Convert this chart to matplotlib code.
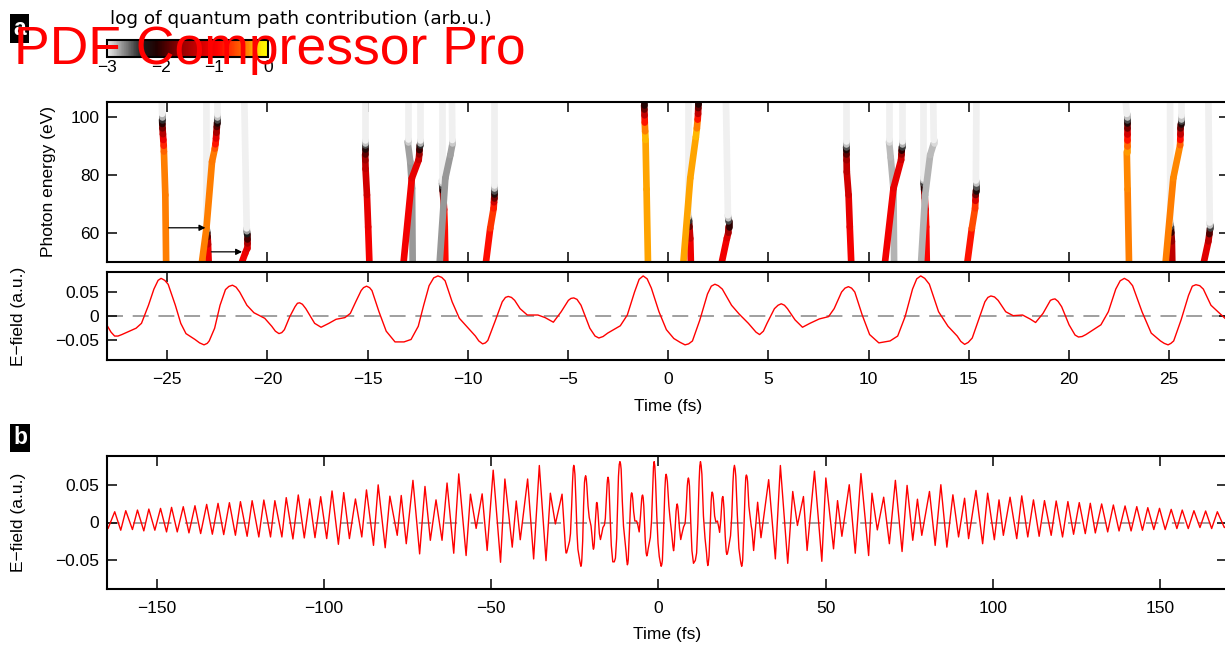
import matplotlib
matplotlib.use('Agg')
import matplotlib.pyplot as plt
import numpy as np
from matplotlib.collections import LineCollection
from matplotlib.colors import LinearSegmentedColormap, Normalize
import matplotlib.cm as cm

plt.rcParams['font.family'] = ['Liberation Sans', 'DejaVu Sans']
plt.rcParams['axes.unicode_minus'] = True
plt.rcParams['lines.scale_dashes'] = False

# ---------------- data ----------------
# quantum-path trajectories: (time fs, photon energy eV, log contribution)
traj_A1 = [(-25.05, 50, -0.4), (-25.09, 73, -0.4), (-25.16, 88, -0.42), (-25.17, 90, -0.6), (-25.19, 92, -0.95),
           (-25.21, 94, -1.25), (-25.23, 96, -1.6), (-25.24, 97.5, -1.9), (-25.25, 99, -2.2), (-25.25, 100, -2.6),
           (-25.25, 101, -3), (-25.27, 106, -3)]
traj_A2 = [(-23.26, 50, -0.4), (-23.04, 61.5, -0.4), (-22.76, 84.5, -0.4), (-22.62, 89, -0.45), (-22.59, 90.5, -0.7),
           (-22.56, 92.5, -1.0), (-22.54, 94.5, -1.3), (-22.52, 96.5, -1.7), (-22.51, 98, -2.0), (-22.51, 99, -2.25),
           (-22.51, 100, -2.7), (-22.51, 101, -3), (-22.51, 106, -3)]
traj_A3 = [(-22.93, 50, -1.0), (-22.96, 56, -1.1), (-22.98, 58.5, -1.6), (-23.0, 60, -2.15), (-23.02, 61, -2.6),
           (-23.03, 62, -3), (-23.04, 106, -3)]
traj_A4 = [(-21.26, 50, -1.0), (-21.1, 53, -1.05), (-21.01, 54.6, -1.1), (-21.01, 56.5, -1.3), (-21.01, 58, -1.7),
           (-21.01, 59.5, -2.15), (-21.02, 60.5, -2.5), (-21.03, 61.5, -3), (-21.15, 106, -3)]
traj_B1 = [(-14.91, 50, -0.95), (-14.97, 62, -1.05), (-15.03, 73, -1.2), (-15.1, 82, -1.3), (-15.11, 85, -1.4),
           (-15.12, 87, -1.7), (-15.12, 89, -2.0), (-15.12, 90.2, -2.3), (-15.12, 91, -2.7), (-15.12, 92, -3),
           (-15.12, 106, -3)]
traj_B2 = [(-13.2, 50, -1.0), (-12.79, 78.8, -1.05), (-12.45, 85.1, -1.2), (-12.42, 87, -1.4), (-12.41, 88.5, -1.8),
           (-12.4, 90.2, -2.2), (-12.4, 91, -2.6), (-12.4, 92, -3), (-12.4, 106, -3)]
traj_B3 = [(-12.75, 50, -2.73), (-12.78, 75.3, -2.73), (-12.87, 84.5, -2.73), (-13.0, 91.4, -2.76), (-13.0, 92.5, -3),
           (-13.0, 106, -3)]
traj_B4 = [(-11.4, 50, -2.73), (-11.12, 78.8, -2.73), (-10.87, 86.8, -2.73), (-10.76, 90.8, -2.76), (-10.77, 92, -3),
           (-10.79, 106, -3)]
traj_B5 = [(-11.12, 50, -1.0), (-11.15, 62, -0.8), (-11.18, 68, -0.9), (-11.22, 72, -1.3), (-11.25, 74.5, -1.9),
           (-11.27, 76, -2.25), (-11.28, 77, -2.7), (-11.29, 78, -3), (-11.29, 106, -3)]
traj_B6 = [(-9.09, 50, -1.0), (-8.88, 61.5, -0.75), (-8.71, 68.4, -0.65), (-8.69, 70.5, -1.0), (-8.68, 72, -1.5),
           (-8.68, 73.3, -2.0), (-8.68, 74.5, -2.3), (-8.68, 75.5, -2.7), (-8.68, 76.5, -3), (-8.68, 106, -3)]
traj_C1 = [(-1.01, 50, -0.3), (-1.08, 75, -0.3), (-1.13, 92, -0.3), (-1.15, 95, -0.2), (-1.17, 98, -0.6),
           (-1.18, 100.5, -1.1), (-1.19, 102.5, -1.6), (-1.2, 104, -2.0), (-1.2, 106, -2.2)]
traj_C2 = [(0.76, 50, -0.3), (1.1, 78.8, -0.3), (1.38, 93, -0.3), (1.43, 96, -0.2), (1.47, 99, -0.6),
           (1.49, 101, -1.1), (1.5, 103, -1.6), (1.51, 104.5, -2.0), (1.51, 106, -2.2)]
traj_C3 = [(1.13, 50, -1.0), (1.1, 58, -1.1), (1.06, 62, -1.5), (1.04, 64, -2.15), (1.02, 65.5, -2.7),
           (1.01, 66.5, -3), (1.01, 106, -3)]
traj_C4 = [(2.68, 50, -1.0), (2.93, 58.1, -1.05), (3.0, 60, -1.3), (3.01, 62, -1.8), (3.01, 63.9, -2.25),
           (3.0, 65, -2.7), (2.98, 66, -3), (2.88, 106, -3)]
traj_D1 = [(9.13, 50, -0.95), (9.06, 62, -1.05), (9.0, 73, -1.2), (8.91, 81, -1.3), (8.9, 85, -1.4),
           (8.89, 87, -1.7), (8.89, 88.5, -2.0), (8.88, 89.6, -2.3), (8.88, 90.5, -2.7), (8.88, 91.5, -3),
           (8.88, 106, -3)]
traj_D2 = [(10.82, 50, -1.0), (11.24, 75.3, -1.05), (11.62, 85.1, -1.2), (11.64, 87, -1.4), (11.65, 88.3, -1.8),
           (11.66, 89.6, -2.25), (11.66, 90.5, -2.6), (11.66, 91.5, -3), (11.66, 106, -3)]
traj_D3 = [(11.27, 50, -2.81), (11.24, 75, -2.81), (11.1, 86, -2.81), (11.02, 91.4, -2.84), (11.02, 92.5, -3),
           (11.02, 106, -3)]
traj_D4 = [(12.62, 50, -2.81), (12.82, 73, -2.81), (13.07, 86.8, -2.81), (13.25, 90.8, -2.84), (13.25, 92, -3),
           (13.22, 106, -3)]
traj_D5 = [(12.9, 50, -1.0), (12.87, 62, -0.85), (12.84, 68, -0.9), (12.8, 72, -1.3), (12.77, 75, -1.9),
           (12.75, 76.9, -2.25), (12.74, 78, -2.7), (12.73, 79, -3), (12.73, 106, -3)]
traj_D6 = [(14.93, 50, -1.0), (15.15, 61.5, -0.7), (15.31, 68.4, -0.5), (15.33, 71, -0.9), (15.34, 73, -1.5),
           (15.35, 74.5, -2.0), (15.35, 75.8, -2.3), (15.35, 77, -2.7), (15.35, 78, -3), (15.38, 106, -3)]
traj_E1 = [(22.99, 50, -0.4), (22.92, 75, -0.4), (22.88, 87.9, -0.35), (22.88, 90, -0.3), (22.88, 92, -0.7),
           (22.88, 94, -1.0), (22.88, 96, -1.5), (22.88, 97.8, -2.0), (22.88, 98.9, -2.25), (22.88, 100, -2.7),
           (22.88, 101, -3), (22.82, 106, -3)]
traj_E2 = [(24.82, 50, -0.4), (25.2, 78.8, -0.4), (25.54, 90.2, -0.35), (25.55, 92, -0.7), (25.56, 94, -1.1),
           (25.56, 96, -1.6), (25.57, 97.4, -2.0), (25.57, 98.4, -2.25), (25.57, 99.4, -2.7), (25.57, 100.5, -3),
           (25.57, 106, -3)]
traj_E3 = [(25.15, 50, -1.3), (25.13, 57, -1.4), (25.1, 60, -1.8), (25.08, 62, -2.2), (25.06, 63, -2.7),
           (25.05, 64, -3), (25.04, 106, -3)]
traj_E4 = [(26.73, 50, -1.1), (26.95, 57, -1.2), (27.0, 59.5, -1.6), (27.03, 61.5, -2.2), (27.03, 62.5, -2.7),
           (27.02, 63.5, -3), (26.95, 106, -3)]

# long trajectories first, short ones on top
trajectories = [traj_A3, traj_B3, traj_B5, traj_C3, traj_D3, traj_D5, traj_E3,
                traj_A1, traj_A2, traj_A4, traj_B1, traj_B2, traj_B4, traj_B6,
                traj_C1, traj_C2, traj_C4, traj_D1, traj_D2, traj_D4, traj_D6,
                traj_E1, traj_E2, traj_E4]

# arrows in panel a (start time, end time, energy)
arrows = [(-24.92, -23.09, 61.7), (-22.79, -21.26, 53.4)]

# E-field, panel a (time fs, field a.u.)
efield_a = [(-28.0, -0.019), (-27.8, -0.033), (-27.62, -0.041), (-27.45, -0.041), (-27.26, -0.038), (-26.55, -0.025),
            (-26.28, -0.015), (-25.93, 0.022), (-25.66, 0.055), (-25.45, 0.073), (-25.3, 0.077), (-25.12, 0.073),
            (-24.95, 0.065), (-24.59, 0.022), (-24.32, -0.015), (-24.06, -0.036), (-23.61, -0.048), (-23.38, -0.055),
            (-23.16, -0.059), (-23.0, -0.056), (-22.9, -0.051), (-22.63, -0.025), (-22.36, 0.022), (-22.09, 0.054),
            (-21.92, 0.0605), (-21.74, 0.063), (-21.56, 0.059), (-21.38, 0.049), (-21.02, 0.022), (-20.67, 0.0067),
            (-20.13, -0.0047), (-19.78, -0.021), (-19.6, -0.031), (-19.42, -0.036), (-19.28, -0.034), (-19.15, -0.028),
            (-18.88, -0.0013), (-18.62, 0.019), (-18.5, 0.026), (-18.39, 0.027), (-18.25, 0.024), (-18.08, 0.015),
            (-17.64, -0.015), (-17.32, -0.023), (-16.93, -0.015), (-16.57, -0.0067), (-16.13, -0.0033),
            (-15.86, 0.0053), (-15.59, 0.029), (-15.32, 0.052), (-15.2, 0.058), (-15.05, 0.061), (-14.9, 0.058),
            (-14.78, 0.052), (-14.43, 0.0087), (-14.07, -0.031), (-13.63, -0.053), (-13.18, -0.053), (-12.83, -0.048),
            (-12.47, -0.021), (-12.2, 0.022), (-11.93, 0.062), (-11.7, 0.078), (-11.49, 0.082), (-11.3, 0.079),
            (-11.13, 0.072), (-10.78, 0.029), (-10.42, -0.0047), (-10.06, -0.021), (-9.62, -0.041), (-9.45, -0.051),
            (-9.26, -0.057), (-9.12, -0.055), (-9.0, -0.05), (-8.64, -0.011), (-8.28, 0.029), (-8.12, 0.038),
            (-7.98, 0.04), (-7.82, 0.038), (-7.66, 0.032), (-7.39, 0.015), (-7.03, 0.002), (-6.5, 0.002),
            (-6.14, -0.0033), (-5.73, -0.0127), (-5.34, 0.0087), (-4.98, 0.032), (-4.85, 0.036), (-4.71, 0.037),
            (-4.55, 0.034), (-4.35, 0.022), (-3.91, -0.025), (-3.65, -0.041), (-3.46, -0.045), (-3.25, -0.042),
            (-3.02, -0.035), (-2.39, -0.02), (-2.04, 0.002), (-1.68, 0.049), (-1.45, 0.075), (-1.25, 0.082),
            (-1.05, 0.076), (-0.84, 0.057), (-0.46, 0.0087), (-0.09, -0.028), (0.28, -0.046), (0.6, -0.054),
            (0.84, -0.059), (1.02, -0.057), (1.21, -0.051), (1.58, -0.008), (1.96, 0.045), (2.15, 0.061),
            (2.33, 0.065), (2.5, 0.062), (2.7, 0.055), (3.16, 0.022), (3.54, 0.004), (4.0, -0.015), (4.38, -0.033),
            (4.56, -0.038), (4.75, -0.031), (4.93, -0.015), (5.3, 0.015), (5.48, 0.022), (5.64, 0.025), (5.8, 0.022),
            (5.95, 0.015), (6.33, -0.008), (6.7, -0.023), (7.07, -0.015), (7.54, -0.006), (8.0, -0.0013),
            (8.28, 0.015), (8.65, 0.049), (8.82, 0.057), (8.99, 0.06), (9.15, 0.057), (9.31, 0.049), (9.68, 0.002),
            (10.05, -0.038), (10.51, -0.055), (11.07, -0.051), (11.45, -0.041), (11.82, -0.0013), (12.19, 0.055),
            (12.4, 0.076), (12.6, 0.082), (12.8, 0.077), (13.03, 0.065), (13.49, 0.0087), (13.96, -0.021),
            (14.42, -0.041), (14.6, -0.052), (14.79, -0.058), (14.97, -0.054), (15.17, -0.045), (15.54, -0.0013),
            (15.8, 0.029), (15.95, 0.038), (16.1, 0.041), (16.28, 0.039), (16.46, 0.032), (16.84, 0.0087),
            (17.21, 0.0007), (17.68, 0.002), (18.05, -0.006), (18.33, -0.0133), (18.7, 0.0053), (19.07, 0.032),
            (19.18, 0.034), (19.3, 0.035), (19.45, 0.030), (19.63, 0.019), (20.0, -0.018), (20.3, -0.039),
            (20.47, -0.043), (20.65, -0.042), (20.84, -0.038), (21.59, -0.018), (21.96, 0.0087), (22.33, 0.055),
            (22.55, 0.072), (22.76, 0.077), (22.97, 0.072), (23.17, 0.062), (23.64, 0.0087), (24.1, -0.035),
            (24.56, -0.051), (24.75, -0.056), (24.94, -0.059), (25.08, -0.056), (25.22, -0.051), (25.59, -0.008),
            (25.96, 0.042), (26.15, 0.061), (26.33, 0.064), (26.52, 0.062), (26.7, 0.055), (27.08, 0.022),
            (27.78, -0.0047), (28.0, -0.01)]

# E-field, panel b wings (time fs, field a.u.); the central part is the same trace as panel a
efield_b = [(-165.0, -0.007), (-164.6, -0.0081), (-162.6, 0.0145), (-160.8, -0.0104), (-159.3, 0.0159), (-157.3, -0.0095),
            (-155.8, 0.0168), (-153.9, -0.0113), (-152.4, 0.0181), (-150.6, -0.0104), (-148.9, 0.019), (-147.1, -0.0127),
            (-145.6, 0.0204), (-143.9, -0.0127), (-142.1, 0.0213), (-140.4, -0.014), (-138.6, 0.0226), (-136.9, -0.0149),
            (-135.1, 0.0244), (-133.4, -0.0158), (-131.7, 0.0258), (-130.0, -0.0163), (-128.3, 0.0267), (-126.5, -0.0172),
            (-125.0, 0.0281), (-123.0, -0.0186), (-121.5, 0.0294), (-119.5, -0.0195), (-118.0, 0.0303), (-116.0, -0.0195),
            (-114.7, 0.0294), (-112.6, -0.0195), (-111.3, 0.0335), (-109.3, -0.0222), (-107.7, 0.0371), (-105.9, -0.0208),
            (-104.3, 0.0317), (-102.7, -0.0204), (-101.0, 0.0348), (-99.2, -0.0217), (-97.6, 0.0425), (-95.7, -0.0294),
            (-94.1, 0.0403), (-92.4, -0.0217), (-90.6, 0.0317), (-88.7, -0.0195), (-87.3, 0.0439), (-85.2, -0.0308),
            (-83.8, 0.0507), (-81.7, -0.034), (-80.3, 0.0355), (-78.1, -0.0173), (-76.9, 0.0364), (-75.4, -0.0286),
            (-73.4, 0.0568), (-71.4, -0.0423), (-69.8, 0.0486), (-68.2, -0.024), (-66.5, 0.0305), (-64.7, -0.024),
            (-63.2, 0.0532), (-61.2, -0.0414), (-59.7, 0.0655), (-57.5, -0.0445), (-56.2, 0.0382), (-54.5, -0.008),
            (-52.7, 0.0386), (-51.2, -0.0377), (-49.4, 0.0705), (-47.2, -0.0536), (-45.9, 0.0586), (-43.7, -0.0332),
            (-42.5, 0.029), (-41.3, -0.0232), (-39.1, 0.0586), (-37.3, -0.0491), (-35.6, 0.0768), (-33.6, -0.0514),
            (-32.3, 0.0395), (-30.8, -0.002), (-28.8, 0.0382),
            (28.5, -0.0377), (29.7, 0.0273), (30.7, -0.0205),
            (33.0, 0.0577), (35.0, -0.049), (36.5, 0.0768), (38.7, -0.055), (40.2, 0.0418), (41.6, -0.004),
            (43.4, 0.035), (44.5, -0.0377), (46.7, 0.0691), (48.9, -0.0523), (50.1, 0.06), (52.4, -0.0355),
            (53.6, 0.0295), (54.9, -0.0186), (57.1, 0.0509), (58.9, -0.0414), (60.6, 0.0659), (62.9, -0.0445),
            (63.9, 0.0395), (65.5, -0.01), (67.4, 0.0341), (69.1, -0.0286), (70.9, 0.0568), (72.9, -0.0391),
            (74.4, 0.05), (76.1, -0.024), (77.5, 0.0314), (78.8, -0.0173), (81.1, 0.0418), (82.8, -0.0309),
            (84.5, 0.0509), (86.3, -0.0332), (88.1, 0.0373), (89.8, -0.0195), (91.6, 0.0327), (92.8, -0.0218),
            (95.0, 0.0432), (97.0, -0.0286), (98.5, 0.0395), (100.5, -0.0232), (101.9, 0.0305), (103.2, -0.0173),
            (105.2, 0.0341), (107.2, -0.0218), (108.7, 0.0359), (110.5, -0.0195), (112.2, 0.0305), (113.9, -0.0186),
            (115.5, 0.0295), (117.5, -0.0173), (119.0, 0.029), (120.9, -0.0195), (122.5, 0.0282), (124.2, -0.0159),
            (125.9, 0.0268), (127.7, -0.015), (129.2, 0.0259), (130.7, -0.0141), (132.6, 0.025), (134.4, -0.0127),
            (136.1, 0.0236), (137.8, -0.0114), (139.6, 0.0223), (141.4, -0.0114), (143.1, 0.0214), (144.8, -0.0105),
            (146.4, 0.02), (148.2, -0.0095), (149.9, 0.0191), (151.6, -0.0095), (153.4, 0.0177), (155.1, -0.0082),
            (156.7, 0.0168), (158.5, -0.0082), (160.2, 0.0159), (162.0, -0.0068), (163.7, 0.0155), (165.5, -0.0082),
            (167.2, 0.0145), (169.3, -0.0068), (170.0, -0.005)]

ticks_a = [-25, -20, -15, -10, -5, 0, 5, 10, 15, 20, 25]
ticks_b = [-150, -100, -50, 0, 50, 100, 150]
ticks_energy = [60, 80, 100]
ticks_field = [-0.05, 0, 0.05]
cbar_ticks = [-3, -2, -1, 0]

# ---------------- figure ----------------
W, H = 1225, 645
fig = plt.figure(figsize=(W / 100, H / 100), dpi=100)


def fax(l, t, r, b):
    return [l / W, 1 - b / H, (r - l) / W, (b - t) / H]


def minus(v):
    return ('%g' % v).replace('-', '\u2212')


cmap = LinearSegmentedColormap.from_list('qp', [
    (0.0, '#f0f0f0'), (0.22, '#1a1a1a'), (0.31, '#220000'), (0.45, '#900000'),
    (0.63, '#e80000'), (0.69, '#ff0000'), (0.79, '#ff4400'), (0.88, '#ff8800'),
    (0.96, '#ffee00'), (1.0, '#ffff00')])
norm = Normalize(-3, 0)


def style(ax, xpad=9):
    for s in ax.spines.values():
        s.set_linewidth(1.5)
    ax.tick_params(direction='in', length=7.5, width=1.1, top=True, right=True, labelsize=12.5)
    ax.tick_params(axis='x', pad=xpad)
    ax.tick_params(axis='y', pad=5.5)


ax1 = fig.add_axes(fax(107, 101.7, 1229.4, 261.7))
ax2 = fig.add_axes(fax(107, 272, 1229.4, 360))
ax3 = fig.add_axes(fax(106.7, 455.7, 1226.7, 589.3))
cax = fig.add_axes(fax(106.7, 40, 268.3, 57.3))

# panel a, trajectories
for tr in trajectories:
    pts = np.array(tr, dtype=float)
    segs = np.stack([pts[:-1, :2], pts[1:, :2]], axis=1)
    vals = 0.5 * (pts[:-1, 2] + pts[1:, 2])
    lc = LineCollection(segs, colors=cmap(norm(vals)), linewidths=4.8,
                        capstyle='round', joinstyle='round')
    ax1.add_collection(lc)
for t0, t1, e in arrows:
    ax1.annotate('', xy=(t1, e), xytext=(t0, e),
                 arrowprops=dict(arrowstyle='-|>', color='black', lw=0.9,
                                 mutation_scale=9, shrinkA=0, shrinkB=0), zorder=5)
ax1.set_xlim(-28, 28)
ax1.set_ylim(50, 105.2)
ax1.set_xticks(ticks_a)
ax1.set_yticks(ticks_energy)
ax1.set_yticklabels([minus(v) for v in ticks_energy])
style(ax1)
ax1.tick_params(axis='x', labelbottom=False)
ax1.set_ylabel('Photon energy (eV)', fontsize=12.5)
ax1.yaxis.set_label_coords((56 - 107) / 1122.4, 0.5)

# panel a, field
ta = [p[0] for p in efield_a]
va = [p[1] for p in efield_a]
ax2.axhline(0, color='#858585', lw=1.1, dashes=(11.5, 7), zorder=1)
ax2.plot(ta, va, color='#ff0000', lw=1.0, zorder=2)
ax2.set_xlim(-28, 28)
ax2.set_ylim(-0.09, 0.09)
ax2.set_xticks(ticks_a)
ax2.set_xticklabels([minus(v) for v in ticks_a])
ax2.set_yticks(ticks_field)
ax2.set_yticklabels([minus(v) for v in ticks_field])
style(ax2)
ax2.set_ylabel('E\u2212field (a.u.)', fontsize=12.5)
ax2.yaxis.set_label_coords((26 - 107) / 1122.4, 0.5)
ax2.set_xlabel('Time (fs)', fontsize=12.5)
ax2.xaxis.set_label_coords(0.5, -(399 - 360) / 88)

# panel b: wings plus the central trace
full_b = sorted([p for p in efield_b if abs(p[0]) > 28.05] + efield_a)
tb = [p[0] for p in full_b]
vb = [p[1] for p in full_b]
ax3.axhline(0, color='#858585', lw=1.1, dashes=(9, 9.7), zorder=1)
ax3.plot(tb, vb, color='#ff0000', lw=1.0, zorder=2)
ax3.set_xlim(-165, 170)
ax3.set_ylim(-0.09, 0.09)
ax3.set_xticks(ticks_b)
ax3.set_xticklabels([minus(v) for v in ticks_b])
ax3.set_yticks(ticks_field)
ax3.set_yticklabels([minus(v) for v in ticks_field])
style(ax3, xpad=8.4)
ax3.set_ylabel('E\u2212field (a.u.)', fontsize=12.5)
ax3.yaxis.set_label_coords((26 - 106.7) / 1120, 0.5)
ax3.set_xlabel('Time (fs)', fontsize=12.5)
ax3.xaxis.set_label_coords(0.5, -(627 - 589.3) / 133.6)

# colorbar
sm = cm.ScalarMappable(norm=norm, cmap=cmap)
cb = fig.colorbar(sm, cax=cax, orientation='horizontal', ticks=cbar_ticks)
cb.outline.set_linewidth(1.5)
cax.set_xticklabels([minus(v) for v in cbar_ticks])
cax.tick_params(length=0, pad=2.0, labelsize=12.5)
fig.text(110 / W, 1 - 19 / H, 'log of quantum path contribution (arb.u.)',
         family='DejaVu Sans', fontsize=13.3, ha='left', va='center')

# panel labels
for lab, xx, yy in [('a', 19.5, 28.5), ('b', 20, 438)]:
    fig.text(xx / W, 1 - yy / H, lab, color='white', fontsize=16.5, fontweight='bold',
             ha='center', va='center',
             bbox=dict(boxstyle='square,pad=0.12', fc='black', ec='none'))

# watermark
fig.text(14 / W, 1 - 64 / H, 'PDF Compressor Pro', color='#ff0000', fontsize=38.5,
         family='Liberation Sans', ha='left', va='baseline', zorder=100)

fig.savefig('out.png', dpi=100)
